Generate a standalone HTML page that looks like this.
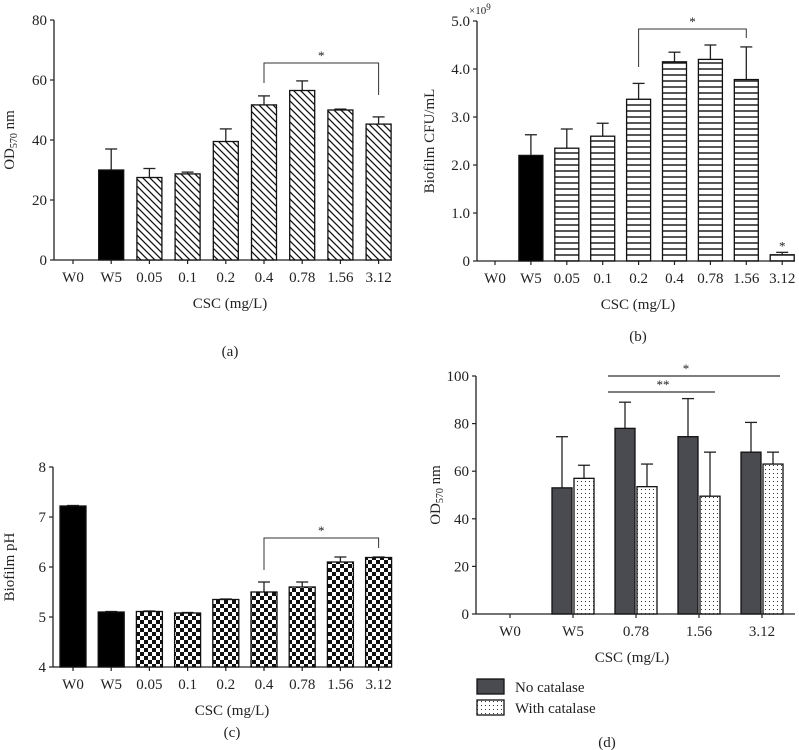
<!DOCTYPE html>
<html><head><meta charset="utf-8">
<style>
body{margin:0;background:#fff;}
svg{display:block;font-family:"Liberation Serif",serif;}
text{fill:#222;}
</style></head>
<body>
<svg id="fig" width="799" height="750" viewBox="0 0 799 750">
<defs>
<pattern id="hatch" patternUnits="userSpaceOnUse" width="7" height="7">
<rect width="7" height="7" fill="#fff"/><path d="M-1,-1 L8,8 M-1,6 L1,8 M6,-1 L8,1" stroke="#111" stroke-width="1.3"/>
</pattern>
<pattern id="hlines" patternUnits="userSpaceOnUse" width="6" height="6">
<rect width="6" height="6" fill="#fff"/><line x1="0" y1="3" x2="6" y2="3" stroke="#111" stroke-width="1.4"/>
</pattern>
<pattern id="checker" patternUnits="userSpaceOnUse" width="8" height="8">
<rect width="8" height="8" fill="#fff"/><rect width="4" height="4" fill="#111"/><rect x="4" y="4" width="4" height="4" fill="#111"/>
</pattern>
<pattern id="dots" patternUnits="userSpaceOnUse" width="4" height="4">
<rect width="4" height="4" fill="#fff"/><rect x="1" y="1" width="1" height="1" fill="#333"/>
</pattern>
</defs>
<g id="root"></g>
</svg>
<script>
// Panel a data
const catsA = ["W0","W5","0.05","0.1","0.2","0.4","0.78","1.56","3.12"];
const valsA = [0,30,27.5,28.7,39.5,51.7,56.5,50,45.3];
const errA = [0,37,30.5,29.3,43.7,54.7,59.7,50.3,47.7];
const ticksA = [0,20,40,60,80];
// Panel b data
const catsB = ["W0","W5","0.05","0.1","0.2","0.4","0.78","1.56","3.12"];
const valsB = [0,2.2,2.35,2.6,3.37,4.15,4.2,3.78,0.13];
const errB = [0,2.63,2.75,2.87,3.7,4.35,4.5,4.46,0.18];
const ticksB = [0,1,2,3,4,5];
const tickLabelsB = ["0","1.0","2.0","3.0","4.0","5.0"];
// Panel c data
const catsC = ["W0","W5","0.05","0.1","0.2","0.4","0.78","1.56","3.12"];
const valsC = [7.22,5.1,5.11,5.08,5.35,5.5,5.6,6.1,6.19];
const errC = [7.23,5.11,5.12,5.09,5.36,5.7,5.7,6.2,6.2];
const ticksC = [4,5,6,7,8];
// Panel d data
const catsD = ["W0","W5","0.78","1.56","3.12"];
const valsNoCat = [0,53,78,74.5,68];
const errNoCat = [0,74.5,89,90.5,80.5];
const valsCat = [0,57,53.5,49.5,63];
const errCat = [0,62.5,63,68,68];
const ticksD = [0,20,40,60,80,100];

const NS="http://www.w3.org/2000/svg";
const root=document.getElementById('root');
function el(tag,attrs,parent,txt){const e=document.createElementNS(NS,tag);for(const k in attrs)e.setAttribute(k,attrs[k]);if(txt!==undefined)e.textContent=txt;(parent||root).appendChild(e);return e;}

function barPanel(o){
  const g=el('g',{});
  
  
  const y=v=>o.y0-(v-o.vmin)*o.ppu;
  const x=i=>o.x0c+i*o.step;
  const ax=el('line',{x1:o.ax,y1:y(o.vmax),x2:o.ax,y2:o.y0,stroke:'#222','stroke-width':1.3},g);
  
  
  const xa=el('line',{x1:o.ax,y1:o.y0,x2:o.xend,y2:o.y0,stroke:'#222','stroke-width':1.3},g);
  
  
  o.ticks.forEach((t,k)=>{
    el('line',{x1:o.ax-4,y1:y(t),x2:o.ax,y2:y(t),stroke:'#222','stroke-width':1.2},g);
    const tl=el('text',{x:o.ax-7,y:y(t)+5,'text-anchor':'end','font-size':15},g,o.tickLabels?o.tickLabels[k]:String(t));
    
    
  });
  o.cats.forEach((c,i)=>{
    el('line',{x1:x(i),y1:o.y0,x2:x(i),y2:o.y0+4,stroke:'#222','stroke-width':1.2},g);
    const cl=el('text',{x:x(i),y:o.y0+22,'text-anchor':'middle','font-size':15},g,c);
    
    
    const v=o.vals[i];
    if(v>o.vmin){
      const e=o.errs[i];
      if(e>v){el('line',{x1:x(i),y1:y(v),x2:x(i),y2:y(e),stroke:'#222','stroke-width':1.3},g);
      el('line',{x1:x(i)-6,y1:y(e),x2:x(i)+6,y2:y(e),stroke:'#222','stroke-width':1.3},g);}
      const fill=(i<o.solidCount)?'#000':'url(#'+o.pattern+')';
      const b=el('rect',{x:x(i)-o.bw/2,y:y(v),width:o.bw,height:o.y0-y(v),fill:fill,stroke:'#111','stroke-width':1.3},g);
      
      
    }
  });
  const xt=el('text',{x:o.titleX,y:o.y0+48,'text-anchor':'middle','font-size':15},g,'CSC (mg/L)');
  
  
  const ym=(y(o.vmax)+o.y0)/2;
  const yt=el('text',{x:o.ylx,y:ym,'text-anchor':'middle','font-size':15,transform:`rotate(-90 ${o.ylx} ${ym})`},g);
  
  
  yt.innerHTML=o.ylabel;
  const b=o.br; const bx1=x(b.i1),bx2=x(b.i2);
  const bp=el('path',{d:`M${bx1},${b.l1} L${bx1},${b.y} L${bx2},${b.y} L${bx2},${b.l2}`,fill:'none',stroke:'#333','stroke-width':1},g);
  
  
  el('text',{x:(bx1+bx2)/2,y:b.y-3,'text-anchor':'middle','font-size':13},g,'*');
  const pl=el('text',{x:o.titleX,y:o.panelY,'text-anchor':'middle','font-size':15},g,o.panel);
  
  
  return {g,x,y};
}

barPanel({name:'chart-a',cats:catsA,vals:valsA,errs:errA,ticks:ticksA,vmin:0,vmax:80,y0:260,ppu:3,ax:54,x0c:73,step:38.2,bw:25,xend:392,solidCount:2,pattern:'hatch',titleX:230,ylx:14,ylabel:'OD<tspan font-size="10" dy="3">570</tspan><tspan dy="-3"> nm</tspan>',br:{i1:5,i2:8,y:63,l1:83,l2:95},panel:'(a)',panelY:356});

const pb=barPanel({name:'chart-b',cats:catsB,vals:valsB,errs:errB,ticks:ticksB,tickLabels:tickLabelsB,vmin:0,vmax:5,y0:261,ppu:48,ax:477,x0c:495,step:35.9,bw:24,xend:795,solidCount:2,pattern:'hlines',titleX:638,ylx:434,ylabel:'Biofilm CFU/mL',br:{i1:4,i2:7,y:29,l1:67,l2:38},panel:'(b)',panelY:341});
el('text',{x:pb.x(8),y:pb.y(0.18)-2,'text-anchor':'middle','font-size':13},pb.g,'*');
const ex=el('text',{x:469,y:14,'font-size':11},pb.g);
ex.innerHTML='×10<tspan font-size="9" dy="-4">9</tspan>';



barPanel({name:'chart-c',cats:catsC,vals:valsC,errs:errC,ticks:ticksC,vmin:4,vmax:8,y0:667,ppu:50,ax:53,x0c:73,step:38.2,bw:26,xend:392,solidCount:2,pattern:'checker',titleX:232,ylx:14,ylabel:'Biofilm pH',br:{i1:5,i2:8,y:538,l1:570,l2:548},panel:'(c)',panelY:737});

// Panel d
(function(){
  const g=el('g',{});
  
  
  const y0=614,ppu=2.38,ax=476;
  const y=v=>y0-v*ppu;
  const x=i=>510+i*63;
  const a1=el('line',{x1:ax,y1:y(100),x2:ax,y2:y0,stroke:'#222','stroke-width':1.3},g);
  
  
  const a2=el('line',{x1:ax,y1:y0,x2:795,y2:y0,stroke:'#222','stroke-width':1.3},g);
  
  
  ticksD.forEach(t=>{
    el('line',{x1:ax-4,y1:y(t),x2:ax,y2:y(t),stroke:'#222','stroke-width':1.2},g);
    const tl=el('text',{x:ax-7,y:y(t)+5,'text-anchor':'end','font-size':15},g,String(t));
    
    
  });
  const series=[[valsNoCat,errNoCat,'#4a4b50',-21,'no-catalase'],[valsCat,errCat,'url(#dots)',1,'with-catalase']];
  catsD.forEach((c,i)=>{
    el('line',{x1:x(i),y1:y0,x2:x(i),y2:y0+4,stroke:'#222','stroke-width':1.2},g);
    const cl=el('text',{x:x(i),y:y0+22,'text-anchor':'middle','font-size':15},g,c);
    
    
    series.forEach(s=>{
      const v=s[0][i],e=s[1][i];if(v<=0)return;
      const cx=x(i)+s[3]+10;
      el('line',{x1:cx,y1:y(v),x2:cx,y2:y(e),stroke:'#222','stroke-width':1.3},g);
      el('line',{x1:cx-6,y1:y(e),x2:cx+6,y2:y(e),stroke:'#222','stroke-width':1.3},g);
      const b=el('rect',{x:x(i)+s[3],y:y(v),width:20,height:y0-y(v),fill:s[2],stroke:'#111','stroke-width':1.3},g);
      
      
    });
  });
  const l1=el('line',{x1:608,y1:376,x2:780,y2:376,stroke:'#333','stroke-width':1.2},g);
  
  
  el('text',{x:686,y:373,'text-anchor':'middle','font-size':13},g,'*');
  const l2=el('line',{x1:608,y1:392,x2:715,y2:392,stroke:'#333','stroke-width':1.2},g);
  
  
  el('text',{x:663,y:389,'text-anchor':'middle','font-size':13},g,'**');
  const xt=el('text',{x:632,y:662,'text-anchor':'middle','font-size':15},g,'CSC (mg/L)');
  
  
  const ym=(y(100)+y0)/2;
  const yt=el('text',{x:440,y:ym,'text-anchor':'middle','font-size':15,transform:`rotate(-90 440 ${ym})`},g);
  yt.innerHTML='OD<tspan font-size="10" dy="3">570</tspan><tspan dy="-3"> nm</tspan>';
  
  
  const lg=el('g',{},g);
  
  
  const le1=el('rect',{x:477,y:679,width:27,height:15,fill:'#4a4b50',stroke:'#111','stroke-width':1.3},lg);
  
  
  el('text',{x:515,y:692,'font-size':15},lg,'No catalase');
  const le2=el('rect',{x:477,y:700,width:27,height:15,fill:'url(#dots)',stroke:'#111','stroke-width':1.3},lg);
  
  
  el('text',{x:515,y:713,'font-size':15},lg,'With catalase');
  const pl=el('text',{x:607,y:747,'text-anchor':'middle','font-size':15},g,'(d)');
  
  
})();
</script>
</body></html>
